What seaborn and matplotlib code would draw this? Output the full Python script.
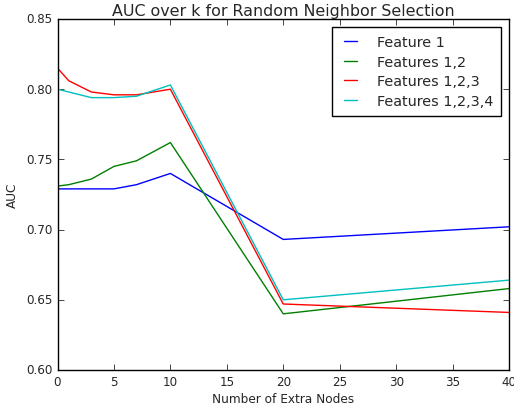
import pandas as pd
import matplotlib
matplotlib.use('Agg')
import matplotlib.pyplot as plt
import seaborn as sns

# Values
k = [0, 1, 3, 5, 7, 10, 20, 40]
feat1 = [0.729, 0.729, 0.729, 0.729, 0.732, 0.740, 0.693, 0.702]
feat12 = [0.731, 0.732, 0.736, 0.745, 0.749, 0.762, 0.640, 0.658]
feat123 = [0.815, 0.806, 0.798, 0.796, 0.796, 0.800, 0.647, 0.641]
feat1234 = [0.800, 0.798, 0.794, 0.794, 0.795, 0.803, 0.650, 0.664]
labels = ['Feature 1', 'Features 1,2', 'Features 1,2,3', 'Features 1,2,3,4']
colors = ['#0000ff', '#008000', '#ff0000', '#00bfbf']

plt.style.use('classic')
sns.set_style('ticks', {'xtick.direction': 'in', 'ytick.direction': 'in'})
plt.rcParams['font.family'] = ['DejaVu Sans']

rows = []
for name, vals in zip(labels, [feat1, feat12, feat123, feat1234]):
    for x, y in zip(k, vals):
        rows.append({'k': x, 'AUC': y, 'series': name})
df = pd.DataFrame(rows)

fig = plt.figure(figsize=(5.14, 4.10), dpi=100, facecolor='white')
ax = fig.add_axes([57.5 / 514, 39 / 410, 451.5 / 514, 351 / 410])
sns.lineplot(data=df, x='k', y='AUC', hue='series', palette=colors,
             linewidth=1.0, ax=ax)

ax.set_xlim(0, 40)
ax.set_ylim(0.60, 0.85)
ax.set_xticks([0, 5, 10, 15, 20, 25, 30, 35, 40])
ax.set_yticks([0.60, 0.65, 0.70, 0.75, 0.80, 0.85])
ax.set_yticklabels(['0.60', '0.65', '0.70', '0.75', '0.80', '0.85'])
ax.tick_params(direction='in', length=4, width=0.6, top=True, right=True,
               labelsize=8.6, pad=3.5)
for s in ax.spines.values():
    s.set_visible(True)
    s.set_linewidth(1.0)
    s.set_color('black')
ax.set_title('AUC over k for Random Neighbor Selection', fontsize=11.4, pad=3)
ax.set_xlabel('Number of Extra Nodes', fontsize=8.7, labelpad=3)
ax.set_ylabel('AUC', fontsize=8.7, labelpad=5)
ax.grid(False)
ax.set_facecolor('white')

leg = ax.legend(loc='upper right', fontsize=10.4, frameon=True, fancybox=False,
                handlelength=1.45, handletextpad=1.1, borderpad=0.55,
                labelspacing=0.4, borderaxespad=0.55)
leg.get_frame().set_edgecolor('black')
leg.get_frame().set_linewidth(1.0)

fig.savefig('out.png', dpi=100, facecolor='white')
